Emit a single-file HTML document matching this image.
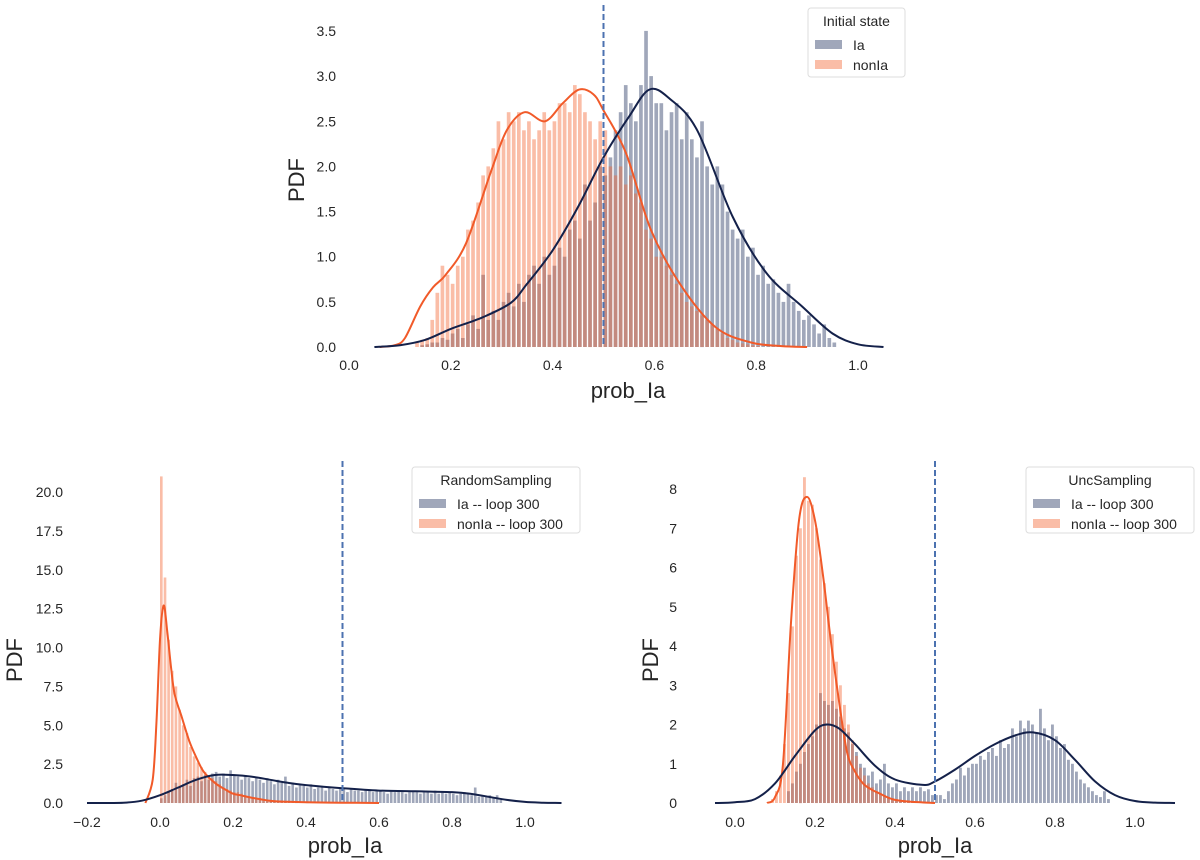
<!DOCTYPE html>
<html><head><meta charset="utf-8"><style>
body{margin:0;background:#fff}
svg{display:block;font-family:"Liberation Sans","DejaVu Sans",sans-serif}
.tick{font-size:14px;fill:#262626}
.lab{font-size:22px;fill:#262626}
.leg{font-size:14px;fill:#262626}
</style></head><body>
<svg id="chart" width="1200" height="860" viewBox="0 0 1200 860"></svg>
<script>
// ---------- top panel data (Initial state) ----------
const topIaStart = 0.14;
const topIaBars = [0.02,0.03,0.05,0.05,0.1,0.08,0.15,0.2,0.1,0.25,0.35,0.2,0.8,0.3,0.4,0.3,0.5,0.6,0.45,0.7,0.5,0.8,0.9,0.7,1.0,0.8,0.9,1.1,1.0,1.3,1.4,1.2,1.8,1.4,1.6,2.0,1.9,2.1,2.4,2.6,2.9,2.7,2.5,2.9,3.5,3.0,2.7,2.7,2.4,2.6,2.7,2.3,2.6,2.3,2.1,2.5,2.0,1.8,2.0,1.8,1.5,1.3,1.2,1.3,1.0,1.1,0.8,0.9,0.7,0.75,0.6,0.5,0.7,0.5,0.4,0.3,0.35,0.25,0.15,0.25,0.1,0.05];
const topNonStart = 0.13;
const topNonBars = [0.05,0.08,0.1,0.3,0.6,0.9,0.8,0.7,0.9,1.0,1.3,1.4,1.6,1.9,2.0,2.2,2.5,2.3,2.6,2.5,2.6,2.4,2.5,2.3,2.4,2.6,2.4,2.5,2.7,2.7,2.6,2.9,2.8,2.6,2.5,2.3,2.5,2.4,2.0,1.9,2.0,1.8,1.9,1.7,1.6,1.3,1.2,1.0,1.0,0.9,0.8,0.7,0.6,0.5,0.45,0.4,0.35,0.3,0.25,0.2,0.15,0.1,0.08,0.05,0.04,0.03,0.02,0.01];
const topIaKdeX = [0.05,0.1,0.15,0.2,0.263,0.318,0.35,0.4,0.45,0.5,0.55,0.59,0.63,0.684,0.754,0.82,0.89,0.95,1.0,1.05];
const topIaKdeY = [0,0.02,0.08,0.2,0.33,0.49,0.7,1.07,1.55,2.1,2.55,2.85,2.75,2.4,1.44,0.82,0.45,0.15,0.03,0];
const topNonKdeX = [0.06,0.09,0.11,0.14,0.165,0.19,0.23,0.28,0.31,0.345,0.385,0.42,0.452,0.48,0.5,0.544,0.593,0.65,0.72,0.79,0.85,0.9];
const topNonKdeY = [0,0.02,0.1,0.45,0.66,0.8,1.15,1.96,2.4,2.6,2.5,2.7,2.85,2.8,2.62,2.15,1.3,0.7,0.22,0.05,0.01,0];
const topYTicks = ["0.0","0.5","1.0","1.5","2.0","2.5","3.0","3.5"];
const topXTicks = ["0.0","0.2","0.4","0.6","0.8","1.0"];

// ---------- bottom-left data (RandomSampling) ----------
const blIaStart = 0.0;
const blIaBars = [0.3,0.5,0.7,0.9,1.3,1.0,1.2,1.5,1.1,1.6,1.7,1.4,1.8,1.5,1.9,2.0,1.7,1.9,1.6,2.1,1.8,1.7,1.5,1.8,1.6,1.4,1.7,1.5,1.3,1.6,1.4,1.2,1.5,1.3,1.7,1.1,1.3,1.0,1.2,1.1,1.0,1.2,0.9,1.0,1.1,0.8,1.0,0.9,0.8,1.0,0.9,0.7,0.9,0.8,0.8,0.7,0.9,0.8,0.7,0.8,0.8,0.7,0.6,0.8,0.7,0.8,0.7,0.6,0.7,0.8,0.7,0.6,0.7,0.7,0.6,0.8,0.6,0.7,0.6,0.7,0.6,0.5,0.6,0.7,0.6,0.5,1.0,0.4,0.5,0.4,0.5,0.3,0.5,0.2];
const blNonStart = 0.0;
const blNonBars = [21.0,14.5,10.5,8.5,7.5,6.0,5.0,4.5,3.6,3.0,2.6,2.3,2.0,1.8,1.6,1.4,1.2,1.0,0.9,0.8,0.7,0.7,0.6,0.5,0.4,0.35,0.3,0.3,0.25,0.2,0.2,0.15,0.15,0.12,0.1,0.1,0.08,0.08,0.06,0.05,0.05,0.04,0.04,0.03,0.03,0.02,0.02,0.02,0.01,0.01];
const blIaKdeX = [-0.2,-0.1,-0.05,0,0.05,0.1,0.15,0.2,0.25,0.3,0.35,0.4,0.5,0.6,0.7,0.8,0.85,0.9,0.95,1.0,1.05,1.1];
const blIaKdeY = [0,0.02,0.15,0.5,1.0,1.5,1.8,1.8,1.7,1.5,1.3,1.15,0.95,0.8,0.75,0.7,0.6,0.4,0.2,0.07,0.02,0];
const blNonKdeX = [-0.04,-0.02,-0.01,0,0.01,0.02,0.03,0.04,0.06,0.08,0.10,0.12,0.15,0.18,0.2,0.22,0.25,0.3,0.35,0.4,0.5,0.6];
const blNonKdeY = [0,1.5,5,10.5,12.7,11,8.8,7.0,5.5,4.0,2.9,2.0,1.3,0.85,0.6,0.5,0.35,0.15,0.08,0.05,0.02,0];
const blYTicks = ["0.0","2.5","5.0","7.5","10.0","12.5","15.0","17.5","20.0"];
const blXTicks = ["\u22120.2","0.0","0.2","0.4","0.6","0.8","1.0"];

// ---------- bottom-right data (UncSampling) ----------
const brIaStart = 0.13;
const brIaBars = [0.3,0.5,0.8,1.0,1.3,1.5,1.7,2.0,2.8,2.6,2.5,2.6,2.4,2.2,1.9,1.8,1.5,1.3,1.0,0.9,0.7,0.8,0.5,0.6,1.0,0.5,0.4,0.5,0.3,0.4,0.3,0.4,0.3,0.4,0.3,0.35,0.2,0.2,0.2,0.1,0.3,0.5,0.6,0.9,0.7,0.9,1.0,1.0,1.2,1.1,1.3,1.4,1.2,1.6,1.4,1.5,1.9,1.7,2.1,1.9,2.1,2.0,1.8,2.4,1.9,1.6,2.0,1.7,1.4,1.5,1.1,1.0,0.8,0.6,0.5,0.4,0.3,0.2,0.15,0.3,0.1];
const brNonStart = 0.09;
const brNonBars = [0.1,0.3,0.7,1.5,2.8,4.5,6.3,7.0,8.3,7.7,7.6,7.0,6.2,5.6,5.0,4.3,3.6,3.0,2.5,2.0,1.6,1.2,0.9,0.7,0.5,0.4,0.3,0.25,0.2,0.15,0.12,0.1,0.08,0.05,0.04,0.03,0.02,0.02,0.01];
const brIaKdeX = [-0.05,0,0.05,0.1,0.15,0.2,0.23,0.26,0.3,0.35,0.4,0.47,0.5,0.55,0.6,0.65,0.7,0.745,0.8,0.85,0.9,0.95,1.0,1.05,1.1];
const brIaKdeY = [0,0.02,0.1,0.5,1.2,1.85,2.0,1.9,1.5,0.95,0.6,0.46,0.55,0.85,1.2,1.5,1.72,1.8,1.6,1.1,0.55,0.2,0.05,0.01,0];
const brNonKdeX = [0.08,0.10,0.12,0.14,0.16,0.18,0.20,0.22,0.24,0.26,0.28,0.30,0.32,0.34,0.36,0.38,0.40,0.44,0.5];
const brNonKdeY = [0,0.15,1.0,4.6,7.2,7.8,7.2,5.8,4.1,2.6,1.3,0.8,0.5,0.35,0.25,0.15,0.08,0.03,0];
const brYTicks = ["0","1","2","3","4","5","6","7","8"];
const brXTicks = ["0.0","0.2","0.4","0.6","0.8","1.0"];

const NS = "http://www.w3.org/2000/svg";
const svg = document.getElementById('chart');
function mk(tag, attrs, parent){const e=document.createElementNS(NS,tag);for(const k in attrs)e.setAttribute(k,attrs[k]);(parent||svg).appendChild(e);return e;}

function smoothPath(pts){
  let d="M"+pts[0][0].toFixed(1)+","+pts[0][1].toFixed(1);
  for(let i=0;i<pts.length-1;i++){
    const p0=pts[Math.max(0,i-1)],p1=pts[i],p2=pts[i+1],p3=pts[Math.min(pts.length-1,i+2)];
    const c1=[p1[0]+(p2[0]-p0[0])/6,p1[1]+(p2[1]-p0[1])/6];
    const c2=[p2[0]-(p3[0]-p1[0])/6,p2[1]-(p3[1]-p1[1])/6];
    d+=" C"+c1[0].toFixed(1)+","+c1[1].toFixed(1)+" "+c2[0].toFixed(1)+","+c2[1].toFixed(1)+" "+p2[0].toFixed(1)+","+p2[1].toFixed(1);
  }
  return d;
}

function panel(cfg){
  const g=mk('g',{});
  
  
  const sx=v=>cfg.x0+v*cfg.xs, sy=v=>cfg.y0-v*cfg.ys;
  // bars
  const drawBars=(start,vals,fill,nm)=>{
    vals.forEach((v,i)=>{
      const x=sx(start+i*cfg.bw);
      const r=mk('rect',{x:x.toFixed(1),y:sy(v).toFixed(1),width:(cfg.bw*cfg.xs*0.72).toFixed(2),height:(v*cfg.ys).toFixed(1),fill:fill,'fill-opacity':0.42},g);
      
      
    });
  };
  drawBars(cfg.iaStart,cfg.iaBars,'#1c2d5a','ia-bar');
  drawBars(cfg.nonStart,cfg.nonBars,'#f4622e','nonia-bar');
  const line=(xs,ys,col,nm)=>{
    const p=mk('path',{d:smoothPath(xs.map((x,i)=>[sx(x),sy(ys[i])])),fill:'none',stroke:col,'stroke-width':2},g);
    
    
  };
  line(cfg.nonKx,cfg.nonKy,'#f15a29','nonia-kde-line');
  line(cfg.iaKx,cfg.iaKy,'#14214a','ia-kde-line');
  // dashed threshold
  const dl=mk('line',{x1:sx(0.5),x2:sx(0.5),y1:cfg.dashTop,y2:cfg.y0,stroke:'#4c72b0','stroke-width':2,'stroke-dasharray':'6,3'},g);
  
  
  // y ticks
  cfg.yTicks.forEach((t,i)=>{
    const e=mk('text',{x:cfg.yLabX,y:sy(i*cfg.yStep)+5,'text-anchor':'end',class:'tick'},g);
    e.textContent=t;
    
    
  });
  cfg.xTicks.forEach((t,i)=>{
    const e=mk('text',{x:sx(cfg.xFirst+i*0.2),y:cfg.xLabY,'text-anchor':'middle',class:'tick'},g);
    e.textContent=t;
    
    
  });
  const xl=mk('text',{x:cfg.xTitle[0],y:cfg.xTitle[1],'text-anchor':'middle',class:'lab'},g);
  xl.textContent='prob_Ia';
  
  
  const yl=mk('text',{x:0,y:0,'text-anchor':'middle',class:'lab',transform:`translate(${cfg.yTitle[0]},${cfg.yTitle[1]}) rotate(-90)`},g);
  yl.textContent='PDF';
  
  
  // legend
  const L=cfg.leg;
  const lg=mk('g',{},g);
  
  
  mk('rect',{x:L.x,y:L.y,width:L.w,height:L.h,rx:3,fill:'#fff',stroke:'#dddddd'},lg);
  const tt=mk('text',{x:L.x+L.w/2,y:L.y+18,'text-anchor':'middle',class:'leg'},lg);
  tt.textContent=L.title;
  
  
  [[L.l1,'#1c2d5a'],[L.l2,'#f4622e']].forEach((it,i)=>{
    const yy=L.y+32+i*20;
    const sw=mk('rect',{x:L.x+7,y:yy,width:27,height:9,fill:it[1],'fill-opacity':0.42},lg);
    
    
    const tx=mk('text',{x:L.x+45,y:yy+10,class:'leg'},lg);
    tx.textContent=it[0];
    
    
  });
}

panel({name:'initial-state-panel',x0:349,xs:509,y0:347,ys:90.3,bw:0.01,
  iaStart:topIaStart,iaBars:topIaBars,nonStart:topNonStart,nonBars:topNonBars,
  iaKx:topIaKdeX,iaKy:topIaKdeY,nonKx:topNonKdeX,nonKy:topNonKdeY,dashTop:5,
  yTicks:topYTicks,yStep:0.5,yLabX:336,xTicks:topXTicks,xFirst:0,xLabY:370,
  xTitle:[628,398],yTitle:[304,180],
  leg:{x:808,y:8,w:97,h:69,title:'Initial state',l1:'Ia',l2:'nonIa'}});
panel({name:'random-sampling-panel',x0:160,xs:365,y0:803,ys:15.55,bw:0.01,
  iaStart:blIaStart,iaBars:blIaBars,nonStart:blNonStart,nonBars:blNonBars,
  iaKx:blIaKdeX,iaKy:blIaKdeY,nonKx:blNonKdeX,nonKy:blNonKdeY,dashTop:461,
  yTicks:blYTicks,yStep:2.5,yLabX:63,xTicks:blXTicks,xFirst:-0.2,xLabY:827,
  xTitle:[345,853],yTitle:[22,660],
  leg:{x:412,y:467,w:168,h:66,title:'RandomSampling',l1:'Ia -- loop 300',l2:'nonIa -- loop 300'}});
panel({name:'unc-sampling-panel',x0:735,xs:400,y0:803,ys:39.25,bw:0.01,
  iaStart:brIaStart,iaBars:brIaBars,nonStart:brNonStart,nonBars:brNonBars,
  iaKx:brIaKdeX,iaKy:brIaKdeY,nonKx:brNonKdeX,nonKy:brNonKdeY,dashTop:461,
  yTicks:brYTicks,yStep:1,yLabX:677,xTicks:brXTicks,xFirst:0,xLabY:827,
  xTitle:[935,853],yTitle:[658,660],
  leg:{x:1026,y:467,w:168,h:66,title:'UncSampling',l1:'Ia -- loop 300',l2:'nonIa -- loop 300'}});
</script>
</body></html>
